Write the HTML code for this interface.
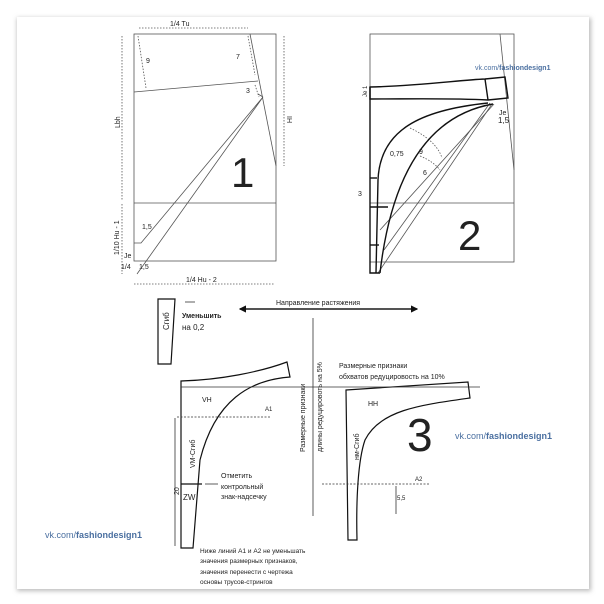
<!DOCTYPE html>
<html><head><meta charset="utf-8"><style>
body{margin:0;background:#fff;width:604px;height:604px;overflow:hidden}
svg{display:block}
text{font-family:"Liberation Sans","DejaVu Sans",sans-serif;fill:#222}
</style></head><body>
<svg width="604" height="604" viewBox="0 0 604 604">
<defs>
<filter id="sh" x="-5%" y="-5%" width="110%" height="110%"><feGaussianBlur stdDeviation="2.5"/></filter>
<marker id="ah" markerWidth="6" markerHeight="6" refX="5" refY="3" orient="auto"><path d="M0,0 L6,3 L0,6z" fill="#111"/></marker>
</defs>
<rect x="17" y="18" width="574" height="573" fill="#bbb" filter="url(#sh)"/>
<rect x="17" y="17" width="572" height="572" fill="#fff"/>

<!-- Diagram 1 -->
<g stroke="#555" stroke-width="0.8" fill="none">
<rect x="134" y="34" width="142" height="227"/>
<line x1="134" y1="92" x2="258" y2="81"/>
<line x1="134" y1="203" x2="276" y2="203"/>
<line x1="250" y1="34" x2="276" y2="166"/>
<polyline points="134,243 141,243 263,97 137,274"/>
<line x1="263" y1="97" x2="258" y2="94"/>
<g stroke-dasharray="1.5,1.5">
<line x1="139" y1="28" x2="248" y2="28"/>
<line x1="122" y1="36" x2="122" y2="200"/>
<line x1="122" y1="204" x2="122" y2="274"/>
<line x1="284" y1="36" x2="284" y2="166"/>
<line x1="134" y1="284" x2="275" y2="284"/>
<line x1="138" y1="36" x2="146" y2="88"/>
<line x1="248" y1="36" x2="255" y2="75"/>
<line x1="255" y1="85" x2="259" y2="97"/>
</g>
</g>
<text x="170" y="26" font-size="7">1/4 Tu</text>
<text x="146" y="63" font-size="7">9</text>
<text x="236" y="59" font-size="7">7</text>
<text x="246" y="93" font-size="7">3</text>
<text x="142" y="229" font-size="7">1,5</text>
<text x="139" y="269" font-size="7">1,5</text>
<text x="121" y="269" font-size="7">1/4</text>
<text x="186" y="282" font-size="7">1/4 Hu - 2</text>
<text font-size="7" transform="translate(120,128) rotate(-90)">Lbh</text>
<text font-size="7" transform="translate(287,116) rotate(90)">IH</text>
<text font-size="7" transform="translate(119,255) rotate(-90)">1/10 Hu - 1</text>
<text x="124" y="258" font-size="7">Je</text>
<text x="231" y="187" font-size="42">1</text>

<!-- Diagram 2 -->
<g stroke="#555" stroke-width="0.8" fill="none">
<rect x="370" y="34" width="144" height="228"/>
<line x1="370" y1="203" x2="514" y2="203"/>
<line x1="500" y1="34" x2="514" y2="170"/>
<line x1="492" y1="104" x2="378" y2="273"/>
<line x1="494" y1="104" x2="380" y2="230"/>
<line x1="490" y1="103" x2="384" y2="250"/>
<path d="M410,128 C425,135 438,145 442,158" stroke-dasharray="1.5,1.5"/>
<path d="M420,156 C430,160 436,165 440,170" stroke-dasharray="1.5,1.5"/>
</g>
<g stroke="#111" stroke-width="1.4" fill="none">
<path d="M370,87 C420,86 460,80 485,79 L505,77 L508,98 L488,100 C450,98 410,99 370,99 Z"/>
<line x1="485" y1="79" x2="488" y2="100"/>
<path d="M488,103 C420,110 380,130 378,180 L376,273"/>
<path d="M493,104 C430,115 392,170 380,273"/>
<polyline points="370,87 370,273 380,273"/>
<line x1="370" y1="178" x2="377" y2="178"/>
<line x1="370" y1="207" x2="388" y2="207"/>
<line x1="370" y1="245" x2="379" y2="245"/>
</g>
<text x="390" y="156" font-size="7">0,75</text>
<text x="419" y="154" font-size="7">9</text>
<text x="423" y="175" font-size="7">6</text>
<text x="358" y="196" font-size="7">3</text>
<text x="499" y="115" font-size="7">Je</text>
<text x="498" y="123" font-size="8">1,5</text>
<text font-size="6" transform="translate(367,97) rotate(-90)">Je 1</text>
<text x="458" y="250" font-size="42">2</text>
<text x="475" y="70" font-size="7" style="fill:#4a6fa0">vk.com/<tspan font-weight="bold">fashiondesign1</tspan></text>

<!-- Diagram 3 -->
<g stroke="#111" stroke-width="1.2" fill="none">
<polygon points="158,299 175,299 171,364 158,364"/>
<path d="M181,381 C220,380 260,372 287,362 L290,377 C250,380 215,400 200,460 L193,548 L181,548 Z"/>
<line x1="181" y1="484" x2="202" y2="484"/>
<path d="M346,390 L468,382 L470,398 C420,405 380,410 365,440 C358,460 356,500 357,540 L348,540 L346,390 Z"/>
<line x1="240" y1="309" x2="417" y2="309" marker-end="url(#ah)"/>
<line x1="417" y1="309" x2="240" y2="309" marker-end="url(#ah)"/>
</g>
<g stroke="#333" stroke-width="0.8" fill="none">
<line x1="313" y1="318" x2="313" y2="516"/>
<line x1="181" y1="387" x2="480" y2="387"/>
<g stroke-dasharray="2,1.5">
<line x1="177" y1="417" x2="270" y2="417"/>
<line x1="322" y1="484" x2="430" y2="484"/>
</g>
<line x1="396" y1="486" x2="396" y2="514"/>
<line x1="175" y1="418" x2="175" y2="546"/>
<line x1="195" y1="302" x2="185" y2="302"/>
<line x1="218" y1="484" x2="205" y2="484"/>
</g>
<text font-size="8" transform="translate(169,330) rotate(-90)">Сгиб</text>
<text x="182" y="318" font-size="7" font-weight="bold">Уменьшить</text>
<text x="182" y="330" font-size="8">на 0,2</text>
<text x="276" y="305" font-size="7">Направление растяжения</text>
<text font-size="7" transform="translate(305,452) rotate(-90)">Размерные признаки</text>
<text font-size="7" transform="translate(322,452) rotate(-90)">длины редуцировоть на 5%</text>
<text x="339" y="368" font-size="7">Размерные признаки</text>
<text x="339" y="379" font-size="7">обхватов редуцировость на 10%</text>
<text x="202" y="402" font-size="7">VH</text>
<text x="265" y="411" font-size="6">A1</text>
<text font-size="7" transform="translate(195,468) rotate(-90)">VM-Сгиб</text>
<text x="183" y="500" font-size="8">ZW</text>
<text font-size="7" transform="translate(179,495) rotate(-90)">20</text>
<text x="221" y="478" font-size="7">Отметить</text>
<text x="221" y="489" font-size="7">контрольный</text>
<text x="221" y="499" font-size="7">знак-надсечку</text>
<text x="368" y="406" font-size="7">HH</text>
<text font-size="7" transform="translate(359,460) rotate(-90)">нм-Сгиб</text>
<text x="415" y="481" font-size="6">A2</text>
<text x="397" y="500" font-size="6">5,5</text>
<text x="407" y="451" font-size="46">3</text>
<text x="200" y="553" font-size="6.5">Ниже линий A1 и A2 не уменьшать</text>
<text x="200" y="563" font-size="6.5">значения размерных признаков,</text>
<text x="200" y="574" font-size="6.5">значения перенести с чертежа</text>
<text x="200" y="584" font-size="6.5">основы трусов-стрингов</text>
<text x="455" y="439" font-size="9" style="fill:#4a6fa0">vk.com/<tspan font-weight="bold">fashiondesign1</tspan></text>
<text x="45" y="538" font-size="9" style="fill:#4a6fa0">vk.com/<tspan font-weight="bold">fashiondesign1</tspan></text>
</svg>
</body></html>
